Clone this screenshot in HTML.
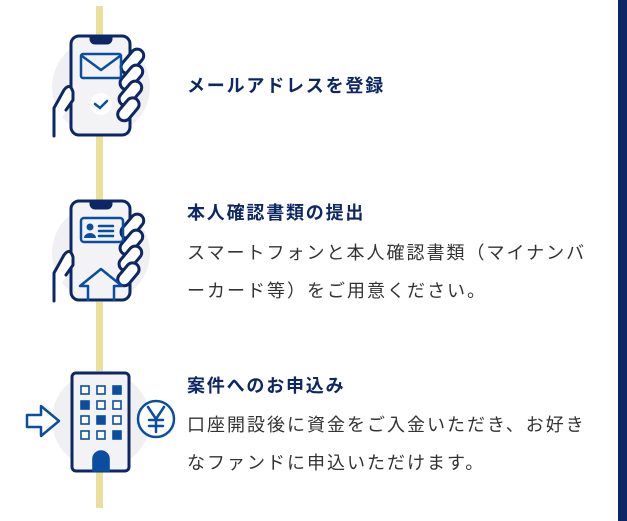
<!DOCTYPE html>
<html><head><meta charset="utf-8"><style>
body{margin:0;width:627px;height:521px;background:#fff;position:relative;overflow:hidden;font-family:"Liberation Sans","Noto Sans CJK JP",sans-serif}
.bar{position:absolute;left:618px;top:0;width:9px;height:521px;background:#0d2766}
.h{position:absolute;left:187px;font-size:18px;font-weight:bold;color:#0d2766;letter-spacing:1.8px;line-height:24px}
.b{position:absolute;left:187px;font-size:18px;color:#333;letter-spacing:2px;line-height:38px}
svg{position:absolute;left:0;top:0}
</style></head><body>
<div class="bar"></div>
<svg width="627" height="521">
<rect x="96" y="6" width="7" height="502" fill="#ebe09a"/>
<g fill="#f0f0f2"><circle cx="101" cy="87" r="49"/><circle cx="101" cy="253" r="49"/><circle cx="101" cy="420" r="49"/></g>
<g stroke="#0d2766" stroke-width="3" fill="none" stroke-linecap="round" stroke-linejoin="round">
<!-- phone 1 -->
<rect x="71" y="36" width="59" height="99" rx="8" fill="#f3f3f6"/>
<path d="M91 37 h20 v2 a4 4 0 0 1 -4 4 h-12 a4 4 0 0 1 -4 -4z" fill="#0d2766"/>
<path d="M54 136 V108 L64 90 Q70 82 73 92 L73 100 L66 110" fill="#fff"/>
<g fill="#fff"><rect x="118" y="55" width="28" height="13" rx="6.5" transform="rotate(-50 132 61)"/>
<rect x="117" y="71" width="28" height="13" rx="6.5" transform="rotate(-50 131 77)"/>
<rect x="116" y="87" width="28" height="13" rx="6.5" transform="rotate(-50 130 93)"/>
<rect x="115" y="103" width="26" height="13" rx="6.5" transform="rotate(-50 128 109)"/></g>
<!-- phone 2 -->
<rect x="71" y="201" width="59" height="99" rx="8" fill="#f3f3f6"/>
<path d="M91 202 h20 v2 a4 4 0 0 1 -4 4 h-12 a4 4 0 0 1 -4 -4z" fill="#0d2766"/>
<path d="M54 301 V273 L64 255 Q70 247 73 257 L73 265 L66 275" fill="#fff"/>
<g fill="#fff"><rect x="118" y="220" width="28" height="13" rx="6.5" transform="rotate(-50 132 226)"/>
<rect x="117" y="236" width="28" height="13" rx="6.5" transform="rotate(-50 131 242)"/>
<rect x="116" y="252" width="28" height="13" rx="6.5" transform="rotate(-50 130 258)"/>
<rect x="115" y="268" width="26" height="13" rx="6.5" transform="rotate(-50 128 274)"/></g>
<!-- building -->
<rect x="72" y="373" width="57" height="98" rx="4" fill="#f3f3f6"/>
</g>
<g stroke="#0a4ea2" stroke-width="2.5" fill="none" stroke-linejoin="round" stroke-linecap="round">
<rect x="81" y="54" width="40" height="24" rx="2"/><path d="M82 56 L101 70 L120 56"/>
<rect x="81" y="218" width="42" height="24" rx="3"/><path d="M99 226h14M99 231h14M99 236h14"/>
<path d="M88 300 V286 H80 L101 269 L122 286 H114 V300"/>
<path d="M27 415 H41 V406 L59 421 L41 436 V427 H27 Z" fill="#fff"/>
<circle cx="156" cy="419" r="18" fill="#fff"/>
<path d="M148 407 L156 419 L164 407 M156 419 V432 M149 420 H163 M149 426 H163"/>
</g>
<circle cx="101" cy="104" r="11" fill="#fff"/>
<path d="M95 104 l5 4 l7 -7" stroke="#0a4ea2" stroke-width="2.5" fill="none" stroke-linecap="round"/>
<circle cx="90" cy="227" r="3.5" fill="#0a4ea2"/><path d="M84 238 a6 5 0 0 1 12 0z" fill="#0a4ea2"/>
<g fill="#0a4ea2" stroke="#0a4ea2" stroke-width="1.6">
<g fill="#fff"><rect x="81" y="386" width="8" height="8"/><rect x="97" y="386" width="8" height="8"/>
<rect x="97" y="401" width="8" height="8"/><rect x="113" y="401" width="8" height="8"/>
<rect x="81" y="416" width="8" height="8"/><rect x="113" y="416" width="8" height="8"/>
<rect x="81" y="431" width="8" height="8"/><rect x="97" y="431" width="8" height="8"/></g>
<rect x="113" y="386" width="8" height="8"/><rect x="81" y="401" width="8" height="8"/>
<rect x="97" y="416" width="8" height="8"/><rect x="113" y="431" width="8" height="8"/>
<path d="M93 471 V459 a8 8 0 0 1 16 0 V471z"/>
</g>
</svg>
<div class="h" style="top:74px">メールアドレスを登録</div>
<div class="h" style="top:201px">本人確認書類の提出</div>
<div class="b" style="top:234px">スマートフォンと本人確認書類（マイナンバ<br>ーカード等）をご用意ください。</div>
<div class="h" style="top:374px">案件へのお申込み</div>
<div class="b" style="top:406px">口座開設後に資金をご入金いただき、お好き<br>なファンドに申込いただけます。</div>
</body></html>
